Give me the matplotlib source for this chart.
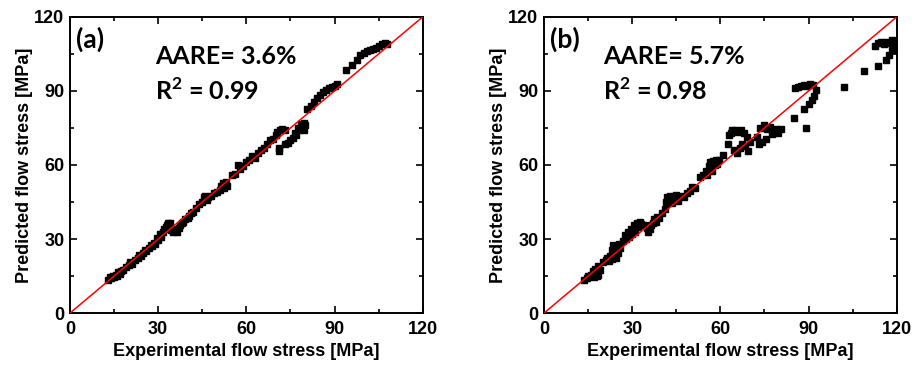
import matplotlib
matplotlib.use("Agg")
import matplotlib.pyplot as plt
from matplotlib.ticker import MultipleLocator

# panel (a): experimental vs predicted flow stress [MPa]
exp_a = [13.0, 13.5, 14.0, 14.5, 15.0, 15.5, 16.0, 16.5, 17.0, 17.5, 18.0, 19.0, 20.0, 20.5,
         21.0, 22.0, 23.0, 23.5, 24.0, 25.0, 25.5, 26.0, 27.0, 27.5, 28.0, 28.5, 29.0, 29.5,
         30.0, 30.5, 31.0, 31.5, 32.0, 32.5, 33.0, 33.5, 34.0, 34.5, 35.0, 35.5, 36.0, 36.5,
         37.0, 37.5, 38.0, 38.5, 39.0, 40.0, 40.5, 41.0, 42.0, 43.0, 44.0, 45.0, 45.5, 46.0,
         46.5, 47.0, 48.0, 49.0, 50.0, 51.0, 51.5, 52.0, 52.5, 53.0, 53.5, 55.0, 56.0, 57.0,
         58.0, 59.0, 60.0, 61.0, 62.0, 63.0, 64.0, 65.0, 66.0, 67.0, 68.0, 69.0, 70.0, 70.5,
         71.0, 71.0, 71.5, 72.0, 73.0, 73.0, 74.0, 75.0, 76.0, 76.5, 77.0, 77.5, 78.0, 78.5,
         79.0, 79.5, 79.5, 80.0, 80.5, 82.0, 83.0, 84.0, 85.0, 86.0, 87.0, 88.0, 89.0, 90.0,
         91.0, 94.0, 96.0, 97.5, 98.5, 100.0, 101.0, 102.0, 103.0, 104.0, 105.0, 106.0, 107.0,
         108.0]
pred_a = [13.5, 14.5, 14.0, 15.0, 14.5, 15.5, 15.0, 16.5, 16.0, 17.0, 17.5, 18.5, 19.5, 20.5,
          20.0, 21.5, 22.5, 23.5, 23.0, 24.5, 25.5, 25.0, 26.5, 27.5, 27.0, 28.5, 28.0, 30.5,
          29.5, 32.0, 31.0, 33.0, 34.0, 35.0, 35.5, 36.5, 36.5, 33.5, 33.0, 33.5, 34.0, 33.0,
          34.5, 35.5, 36.5, 37.0, 38.0, 38.5, 39.5, 40.5, 41.0, 42.5, 44.0, 45.0, 47.0, 47.5,
          46.0, 47.0, 47.5, 48.5, 49.0, 50.0, 51.5, 52.5, 50.5, 53.0, 51.5, 56.0, 56.5, 60.0,
          58.5, 59.5, 61.0, 62.0, 63.5, 63.0, 65.0, 66.0, 67.0, 68.5, 70.0, 70.5, 72.0, 73.5,
          67.0, 65.5, 74.0, 74.5, 74.0, 68.5, 69.0, 70.0, 71.0, 73.0, 72.0, 75.0, 74.0, 76.5,
          75.0, 77.0, 74.0, 76.0, 82.5, 84.0, 85.5, 87.0, 88.5, 89.5, 90.5, 91.0, 91.5, 92.0,
          93.0, 98.5, 100.5, 102.5, 104.5, 105.5, 106.0, 106.5, 107.0, 107.5, 108.0, 109.0,
          109.5, 109.0]

# panel (b)
exp_b = [13.5, 14.5, 15.0, 16.0, 16.5, 17.0, 17.5, 17.5, 18.0, 18.0, 18.5, 18.5, 19.0, 20.0,
         21.0, 21.5, 22.0, 22.5, 23.0, 23.0, 23.5, 24.0, 24.0, 24.5, 25.0, 25.5, 26.0, 27.0,
         27.5, 28.0, 28.5, 29.0, 29.5, 30.0, 30.5, 31.0, 31.5, 32.0, 32.5, 33.0, 34.0, 35.0,
         35.5, 36.0, 36.5, 37.0, 37.5, 38.0, 38.5, 39.0, 40.0, 41.0, 41.5, 42.0, 43.0, 43.5,
         44.0, 45.0, 45.5, 46.5, 47.5, 48.5, 49.5, 50.5, 51.5, 53.0, 54.0, 55.0, 55.5, 56.0,
         56.5, 57.0, 57.5, 58.0, 58.5, 59.5, 59.0, 61.0, 62.5, 63.0, 63.5, 64.0, 64.5, 65.0,
         65.5, 66.0, 66.5, 67.0, 67.5, 68.0, 68.5, 69.0, 69.5, 70.0, 72.5, 73.0, 73.5, 74.0,
         75.0, 75.5, 76.0, 77.0, 77.5, 78.0, 79.0, 79.5, 80.5, 85.0, 85.5, 86.5, 87.5, 88.5,
         88.5, 89.0, 89.5, 90.0, 90.5, 91.0, 91.5, 92.0, 92.5, 102.0, 109.0, 113.5, 116.5,
         117.5, 118.5, 119.0, 112.5, 113.5, 114.5, 115.5, 116.5, 117.5, 118.5, 119.5, 119.5]
pred_b = [13.5, 14.0, 15.0, 15.5, 17.0, 14.5, 16.0, 18.0, 15.0, 17.0, 19.0, 15.5, 17.5, 20.5,
          21.5, 22.5, 21.0, 23.0, 22.0, 25.5, 27.5, 24.0, 26.0, 22.5, 24.5, 28.0, 26.5, 29.0,
          31.5, 30.0, 33.0, 31.0, 34.0, 32.0, 35.5, 33.0, 36.5, 35.0, 37.0, 36.0, 35.5, 34.5,
          33.0, 34.0, 35.5, 36.5, 38.0, 37.0, 39.0, 38.5, 40.5, 42.0, 45.0, 47.0, 47.5, 44.5,
          46.0, 48.0, 45.5, 47.5, 47.0, 48.5, 49.5, 51.0, 50.5, 55.0, 56.0, 57.5, 56.0, 59.5,
          61.0, 57.5, 61.5, 60.0, 62.0, 62.0, 60.5, 64.0, 68.5, 72.0, 73.0, 74.0, 66.0, 74.0,
          65.0, 73.5, 67.0, 74.0, 68.5, 73.0, 67.5, 71.5, 65.5, 69.5, 71.5, 68.5, 75.0, 69.5,
          76.0, 70.5, 74.5, 75.5, 72.5, 74.0, 74.5, 73.0, 74.5, 79.0, 91.0, 91.5, 92.0, 82.5,
          92.5, 75.0, 92.0, 84.5, 93.0, 86.5, 92.5, 88.0, 90.5, 91.5, 98.0, 100.0, 102.5,
          104.5, 106.5, 108.0, 108.0, 109.5, 110.0, 109.0, 110.0, 109.5, 110.5, 109.5, 107.0]

panels = [("(a)", exp_a, pred_a, "AARE= 3.6%", "R$^\\mathbf{2}$ = 0.99", 29),
          ("(b)", exp_b, pred_b, "AARE= 5.7%", "R$^\\mathbf{2}$ = 0.98", 20)]

plt.rcParams['font.family'] = ['Liberation Sans', 'DejaVu Sans']
plt.rcParams['mathtext.fontset'] = 'custom'
plt.rcParams['mathtext.bf'] = 'Lato:bold'

fig = plt.figure(figsize=(9.21, 3.67), dpi=100)
lefts = [0.076, 0.5907]

for left, (tag, xs, ys, aare, r2, tx) in zip(lefts, panels):
    ax = fig.add_axes([left, 0.147, 0.383, 0.807])
    ax.plot(xs, ys, 's', color='black', ms=4.5, mec='black', zorder=2)
    ax.plot([0, 120], [0, 120], color='red', lw=1.1, zorder=3)
    ax.set_xlim(0, 120)
    ax.set_ylim(0, 120)
    ax.xaxis.set_major_locator(MultipleLocator(30))
    ax.yaxis.set_major_locator(MultipleLocator(30))
    ax.xaxis.set_minor_locator(MultipleLocator(15))
    ax.yaxis.set_minor_locator(MultipleLocator(15))
    ax.tick_params(which='both', direction='in', top=True, right=True, width=1.2)
    ax.tick_params(which='major', length=5, labelsize=13)
    ax.tick_params(axis='x', which='major', pad=6)
    ax.tick_params(axis='y', which='major', pad=4)
    ax.tick_params(which='minor', length=3)
    for lab in ax.get_xticklabels() + ax.get_yticklabels():
        lab.set_fontweight('bold')
    for sp in ax.spines.values():
        sp.set_linewidth(1.4)
    ax.set_xlabel("Experimental flow stress [MPa]", fontsize=13, fontweight='bold', labelpad=3)
    ax.set_ylabel("Predicted flow stress [MPa]", fontsize=13, fontweight='bold', labelpad=1)

    ax.text(2, 111, tag, fontsize=19, fontweight='bold', family='Lato', va='center')
    ax.text(tx, 104, aare, fontsize=18, fontweight='bold', family='Lato', va='center')
    ax.text(tx, 90, r2, fontsize=18, fontweight='bold', family='Lato', va='center')

plt.savefig("out.png", dpi=100)
